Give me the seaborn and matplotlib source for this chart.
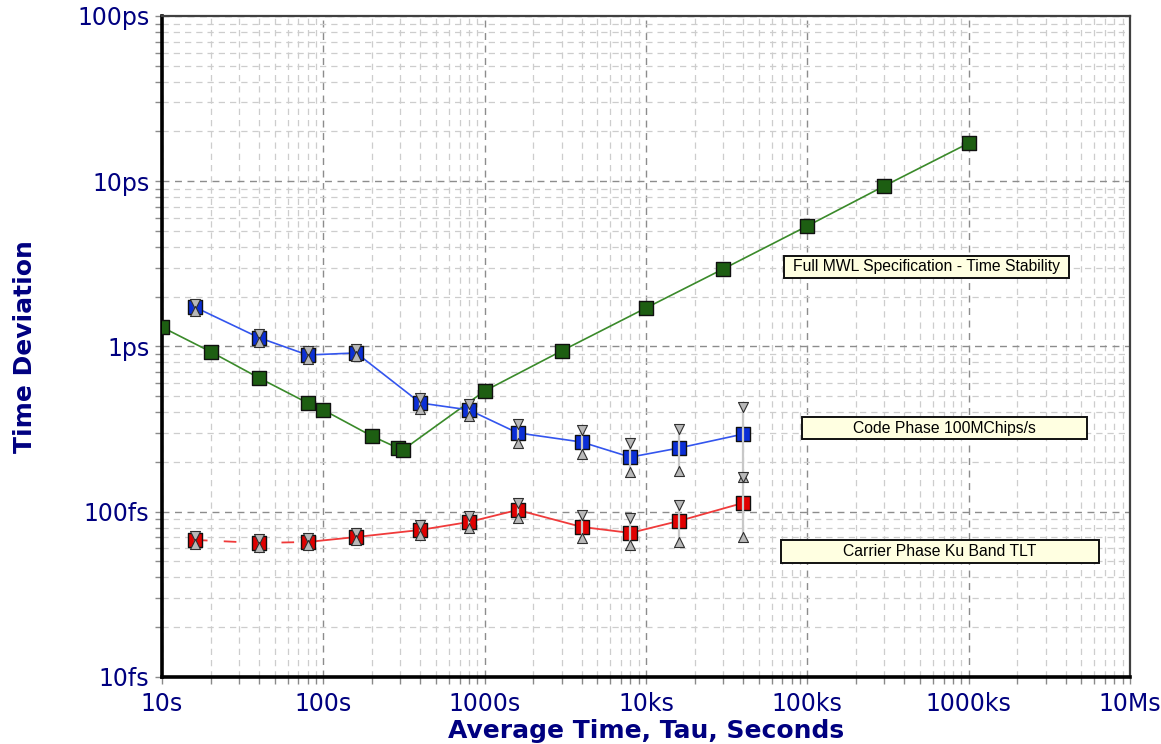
import matplotlib
matplotlib.use("Agg")
import matplotlib.pyplot as plt
import matplotlib.ticker as mticker
from matplotlib.patches import Rectangle
import pandas as pd
import seaborn as sns

# Averaging time tau (s) and time deviation (ps)
spec_tau = [10, 20, 40, 80, 100, 200, 290, 310, 1000, 3000, 10000, 30000,
            100000, 300000, 1000000]
spec_tdev = [1.31, 0.93, 0.645, 0.455, 0.413, 0.287, 0.243, 0.236, 0.538,
             0.94, 1.71, 2.94, 5.36, 9.36, 17.0]

code_tau = [16, 40, 80, 160, 400, 800, 1600, 4000, 8000, 16000, 40000]
code_tdev = [1.73, 1.13, 0.888, 0.914, 0.455, 0.413, 0.300, 0.264, 0.214,
             0.243, 0.295]
code_hi = [1.82, 1.19, 0.94, 0.96, 0.49, 0.45, 0.34, 0.312, 0.261, 0.317, 0.43]
code_lo = [1.64, 1.07, 0.84, 0.87, 0.42, 0.38, 0.262, 0.224, 0.174, 0.177, 0.162]

carrier_tau = [16, 40, 80, 160, 400, 800, 1600, 4000, 8000, 16000, 40000]
carrier_tdev = [0.0675, 0.0647, 0.0656, 0.0703, 0.0776, 0.0867, 0.1025,
                0.0809, 0.0744, 0.0879, 0.113]
carrier_hi = [0.071, 0.068, 0.069, 0.074, 0.083, 0.094, 0.113, 0.0955,
              0.0917, 0.110, 0.162]
carrier_lo = [0.064, 0.0615, 0.0625, 0.067, 0.0725, 0.080, 0.0917, 0.0694,
              0.063, 0.0656, 0.0703]

x_ticks = [10, 100, 1e3, 1e4, 1e5, 1e6, 1e7]
x_ticklabels = ["10s", "100s", "1000s", "10ks", "100ks", "1000ks", "10Ms"]
y_ticks = [0.01, 0.1, 1, 10, 100]
y_ticklabels = ["10fs", "100fs", "1ps", "10ps", "100ps"]

spec_label = "Full MWL Specification - Time Stability"
code_label = "Code Phase 100MChips/s"
carrier_label = "Carrier Phase Ku Band TLT"

NAVY = "#000080"

sns.set_theme(style="white")
plt.rcParams["font.family"] = ["DejaVu Sans"]

fig = plt.figure(figsize=(11.61, 7.44), dpi=100)
ax = fig.add_axes([0.1395, 0.0901, 0.9733 - 0.1395, 0.9785 - 0.0901])

spec = pd.DataFrame({"tau": spec_tau, "tdev": spec_tdev})
code = pd.DataFrame({"tau": code_tau, "tdev": code_tdev,
                     "hi": code_hi, "lo": code_lo})
carrier = pd.DataFrame({"tau": carrier_tau, "tdev": carrier_tdev,
                        "hi": carrier_hi, "lo": carrier_lo})

# connecting lines
sns.lineplot(data=spec, x="tau", y="tdev", color="#3a8a2a", lw=1.2,
             estimator=None, sort=False, ax=ax, zorder=2)
sns.lineplot(data=code, x="tau", y="tdev", color="#3355ee", lw=1.2,
             estimator=None, sort=False, ax=ax, zorder=2)
sns.lineplot(data=carrier.iloc[:3], x="tau", y="tdev", color="#f03a3a",
             lw=1.3, ls=(0, (7, 9)), estimator=None, sort=False, ax=ax,
             zorder=2)
sns.lineplot(data=carrier.iloc[2:], x="tau", y="tdev", color="#f03a3a",
             lw=1.3, estimator=None, sort=False, ax=ax, zorder=2)

# square markers
for df, fc in [(spec, "#1d5e12"), (code, "#0b2fd6"), (carrier, "#e00000")]:
    sns.scatterplot(data=df, x="tau", y="tdev", marker="s", s=100,
                    color=fc, edgecolor="#101010", linewidth=1.0, ax=ax,
                    zorder=3)

# error bounds: grey bar with triangle end markers
for df in [code, carrier]:
    ax.vlines(df["tau"], df["lo"], df["hi"], color="#c8c8c8", lw=1.6,
              zorder=4)
    sns.scatterplot(data=df, x="tau", y="hi", marker="v", s=52,
                    color="#b8b8b8", edgecolor="#303030", linewidth=0.8,
                    ax=ax, zorder=5)
    sns.scatterplot(data=df, x="tau", y="lo", marker="^", s=52,
                    color="#b8b8b8", edgecolor="#303030", linewidth=0.8,
                    ax=ax, zorder=5)

ax.set_xscale("log")
ax.set_yscale("log")
ax.set_xlim(10, 1e7)
ax.set_ylim(0.01, 100)

ax.xaxis.set_major_locator(mticker.FixedLocator(x_ticks))
ax.xaxis.set_major_formatter(mticker.FixedFormatter(x_ticklabels))
ax.yaxis.set_major_locator(mticker.FixedLocator(y_ticks))
ax.yaxis.set_major_formatter(mticker.FixedFormatter(y_ticklabels))
ax.xaxis.set_minor_locator(mticker.LogLocator(base=10, subs=range(2, 10),
                                              numticks=20))
ax.yaxis.set_minor_locator(mticker.LogLocator(base=10, subs=range(2, 10),
                                              numticks=20))
ax.xaxis.set_minor_formatter(mticker.NullFormatter())
ax.yaxis.set_minor_formatter(mticker.NullFormatter())

ax.tick_params(which="both", direction="out", length=5, width=1,
               color="#8a8a8a", left=True, bottom=True, top=False,
               right=False)
ax.tick_params(axis="both", which="major", labelsize=17, labelcolor=NAVY)
ax.tick_params(axis="x", which="major", pad=6)
ax.tick_params(axis="y", which="major", pad=4)

ax.set_axisbelow(True)
ax.grid(True, which="major", color="#8c8c8c", ls=(0, (5, 4)), lw=1.0)
ax.grid(True, which="minor", color="#cdcdcd", ls=(0, (5, 4)), lw=0.9)

for side in ["left", "bottom"]:
    ax.spines[side].set_color("black")
    ax.spines[side].set_linewidth(2.6)
for side in ["top", "right"]:
    ax.spines[side].set_color("#404040")
    ax.spines[side].set_linewidth(1.6)

ax.set_xlabel("Average Time, Tau, Seconds", fontsize=18, fontweight="bold",
              color=NAVY)
ax.set_ylabel("Time Deviation", fontsize=18, fontweight="bold", color=NAVY)
ax.xaxis.set_label_coords(0.5, -0.064)
ax.yaxis.set_label_coords(-0.129, 0.5)

# series caption boxes
boxes = [
    (spec_label, 0.6426, 0.6036, 0.937, 0.6369),
    (code_label, 0.6612, 0.3600, 0.9556, 0.3933),
    (carrier_label, 0.6395, 0.1725, 0.968, 0.2073),
]
for text, x0, y0, x1, y1 in boxes:
    ax.add_patch(Rectangle((x0, y0), x1 - x0, y1 - y0,
                           transform=ax.transAxes, facecolor="#ffffe1",
                           edgecolor="#101010", lw=1.4, zorder=6))
    ax.text((x0 + x1) / 2, (y0 + y1) / 2, text, transform=ax.transAxes,
            ha="center", va="center", fontsize=11.3,
            family=["Liberation Sans"], color="black", zorder=7)

fig.savefig("out.png", dpi=100)
